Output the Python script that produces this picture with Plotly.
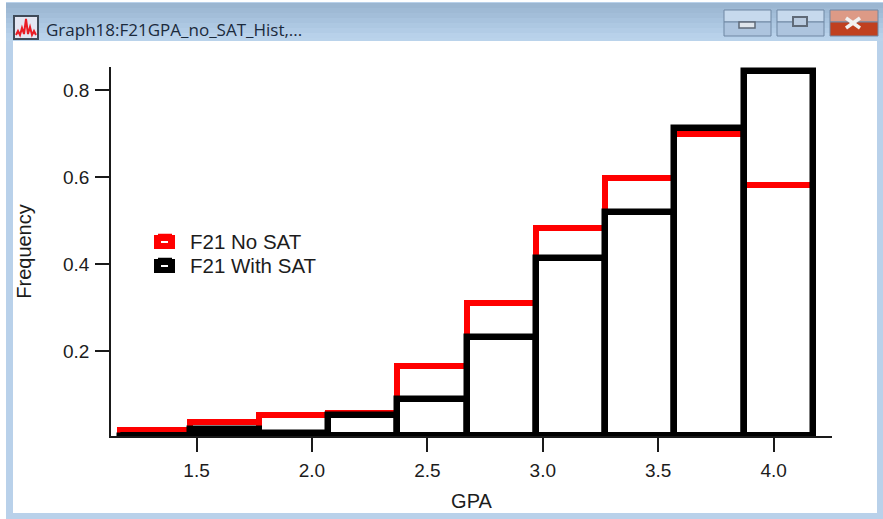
import plotly.graph_objects as go

bin_centers = [1.32, 1.62, 1.92, 2.22, 2.52, 2.82, 3.12, 3.42, 3.72, 4.02]
no_sat = [0.018, 0.037, 0.053, 0.058, 0.165, 0.31, 0.483, 0.598, 0.70, 0.582]
with_sat = [0.004, 0.021, 0.012, 0.054, 0.09, 0.232, 0.414, 0.52, 0.713, 0.844]
series_names = ["F21 No SAT", "F21 With SAT"]
series_colors = ["#ff0000", "#000000"]
series_widths = [6, 6.5]
x_ticks = [1.5, 2.0, 2.5, 3.0, 3.5, 4.0]
y_ticks = [0.2, 0.4, 0.6, 0.8]
window_title = "Graph18:F21GPA_no_SAT_Hist,..."
TEXT = "#1c1c1c"
AXIS = "#1a1a1a"
FONT = "Liberation Sans, Arial, sans-serif"

W, H = 883, 519
L, R, T, B = 111, 832, 67, 436
PAPER_BOTTOM = 509

def px(x):
    return (x - L) / (R - L)

def py(y):
    return (PAPER_BOTTOM - y) / (PAPER_BOTTOM - T)

def rect(x0, y0, x1, y1, fill, line=None, lw=0):
    return dict(type="rect", xref="paper", yref="paper", x0=px(x0), x1=px(x1), y0=py(y0), y1=py(y1),
                fillcolor=fill, line=dict(color=line or fill, width=lw), layer="below")

def seg(pts, color, lw):
    d = "M" + " L".join(f"{px(a):.5f},{py(b):.5f}" for a, b in pts)
    return dict(type="path", xref="paper", yref="paper", path=d, line=dict(color=color, width=lw), layer="below")

shapes = [rect(6, 2, 883, 519, "#b9d1ea")]
bands = ["#9bb6d1", "#9fbad5", "#a3bed9", "#a8c3de", "#adc8e2", "#b2cce6", "#b8d1ea"]
for i, c in enumerate(bands):
    shapes.append(rect(6, 3 + i * 5, 883, 8 + i * 5, c))
shapes.append(rect(6, 38, 883, 41, "#bad3eb"))
shapes.append(rect(13, 41, 877, 513, "#ffffff"))

# window icon
shapes.append(rect(14, 16, 38, 39, "#e4e6f2", "#3f4a58", 2))
shapes.append(seg([(16, 35), (18, 31), (20, 35), (22, 28), (24, 34), (26, 19), (28, 34), (30, 27), (32, 35), (34, 31), (36, 35)], "#ea1c24", 2))

# caption buttons
for x0, x1, c1, c2 in [(724, 771, "#c6d9ed", "#adc4de"), (777, 824, "#c6d9ed", "#adc4de"), (830, 878, "#dd9a86", "#c0401f")]:
    shapes.append(rect(x0, 10, x1, 22, c1, "#6f87a3", 1))
    shapes.append(rect(x0, 22, x1, 36, c2, "#6f87a3", 1))
shapes.append(rect(739, 22, 755, 28, "#dfe5ec", "#5f6a78", 1.5))
shapes.append(rect(793, 17, 807, 26, "#b9cbe0", "#5f6a78", 2))
shapes.append(seg([(846, 18), (860, 28)], "#f2f2f2", 3.5))
shapes.append(seg([(860, 18), (846, 28)], "#f2f2f2", 3.5))

half_bin = (bin_centers[1] - bin_centers[0]) / 2
shapes.append(dict(type="line", xref="x", yref="y", x0=bin_centers[0] - half_bin, x1=bin_centers[-1] + half_bin,
                   y0=0.009, y1=0.009, line=dict(color="#000000", width=4), layer="above"))

# legend swatches: solid blocks behind the legend keys, with the small white dash
for y0, c in zip([235, 259], series_colors):
    shapes.append(rect(154, y0, 175, y0 + 14, c))
    shapes.append(rect(161, y0 + 6, 168, y0 + 8, "#ffffff"))

fig = go.Figure()
for name, vals, col, lw, leg in zip(series_names, [no_sat, with_sat], series_colors, series_widths, ["legend", "legend2"]):
    fig.add_bar(x=bin_centers, y=vals, width=0.3, name=name, legend=leg,
                marker=dict(color="rgba(0,0,0,0)", line=dict(color=col, width=lw)))

legend_style = dict(xref="paper", yref="paper", xanchor="left", yanchor="middle",
                    bgcolor="rgba(0,0,0,0)", font=dict(family=FONT, size=20.5, color=TEXT),
                    itemsizing="constant", itemwidth=40, borderwidth=0)

fig.update_layout(
    width=W, height=H, margin=dict(l=L, r=W - R, t=T, b=H - PAPER_BOTTOM),
    paper_bgcolor="#ffffff", plot_bgcolor="rgba(0,0,0,0)",
    barmode="overlay", bargap=0, showlegend=True,
    font=dict(family=FONT, size=19, color=TEXT),
    legend=dict(x=px(140), y=py(241), **legend_style),
    legend2=dict(x=px(140), y=py(265), **legend_style),
    shapes=shapes,
    annotations=[dict(text=window_title, xref="paper", yref="paper", x=px(44), y=py(29), xanchor="left", yanchor="middle",
                      showarrow=False, font=dict(family="Open Sans, sans-serif", size=17, color="#1b2a3c"))],
    xaxis=dict(range=[1.1295, 4.253], tickmode="array", tickvals=x_ticks, ticktext=[f"{v:.1f}" for v in x_ticks],
               ticks="outside", ticklen=14, tickwidth=1.5, tickcolor=AXIS, showgrid=False, zeroline=False,
               showline=True, linecolor=AXIS, linewidth=1.5, ticklabelstandoff=2,
               title=dict(text="GPA", standoff=14, font=dict(family=FONT, size=20, color=TEXT))),
    yaxis=dict(range=[0.0046, 0.853], domain=[py(B), 1], tickmode="array", tickvals=y_ticks, ticktext=[f"{v:.1f}" for v in y_ticks],
               ticks="outside", ticklen=14, tickwidth=1.5, tickcolor=AXIS, showgrid=False, zeroline=False,
               showline=True, linecolor=AXIS, linewidth=1.5, ticklabelstandoff=2,
               title=dict(text="Frequency", standoff=26, font=dict(family=FONT, size=20, color=TEXT))),
)
fig.write_html("out.html", config=dict(displayModeBar=False),
               post_script="document.body.style.margin='0';document.body.style.overflow='hidden';")
